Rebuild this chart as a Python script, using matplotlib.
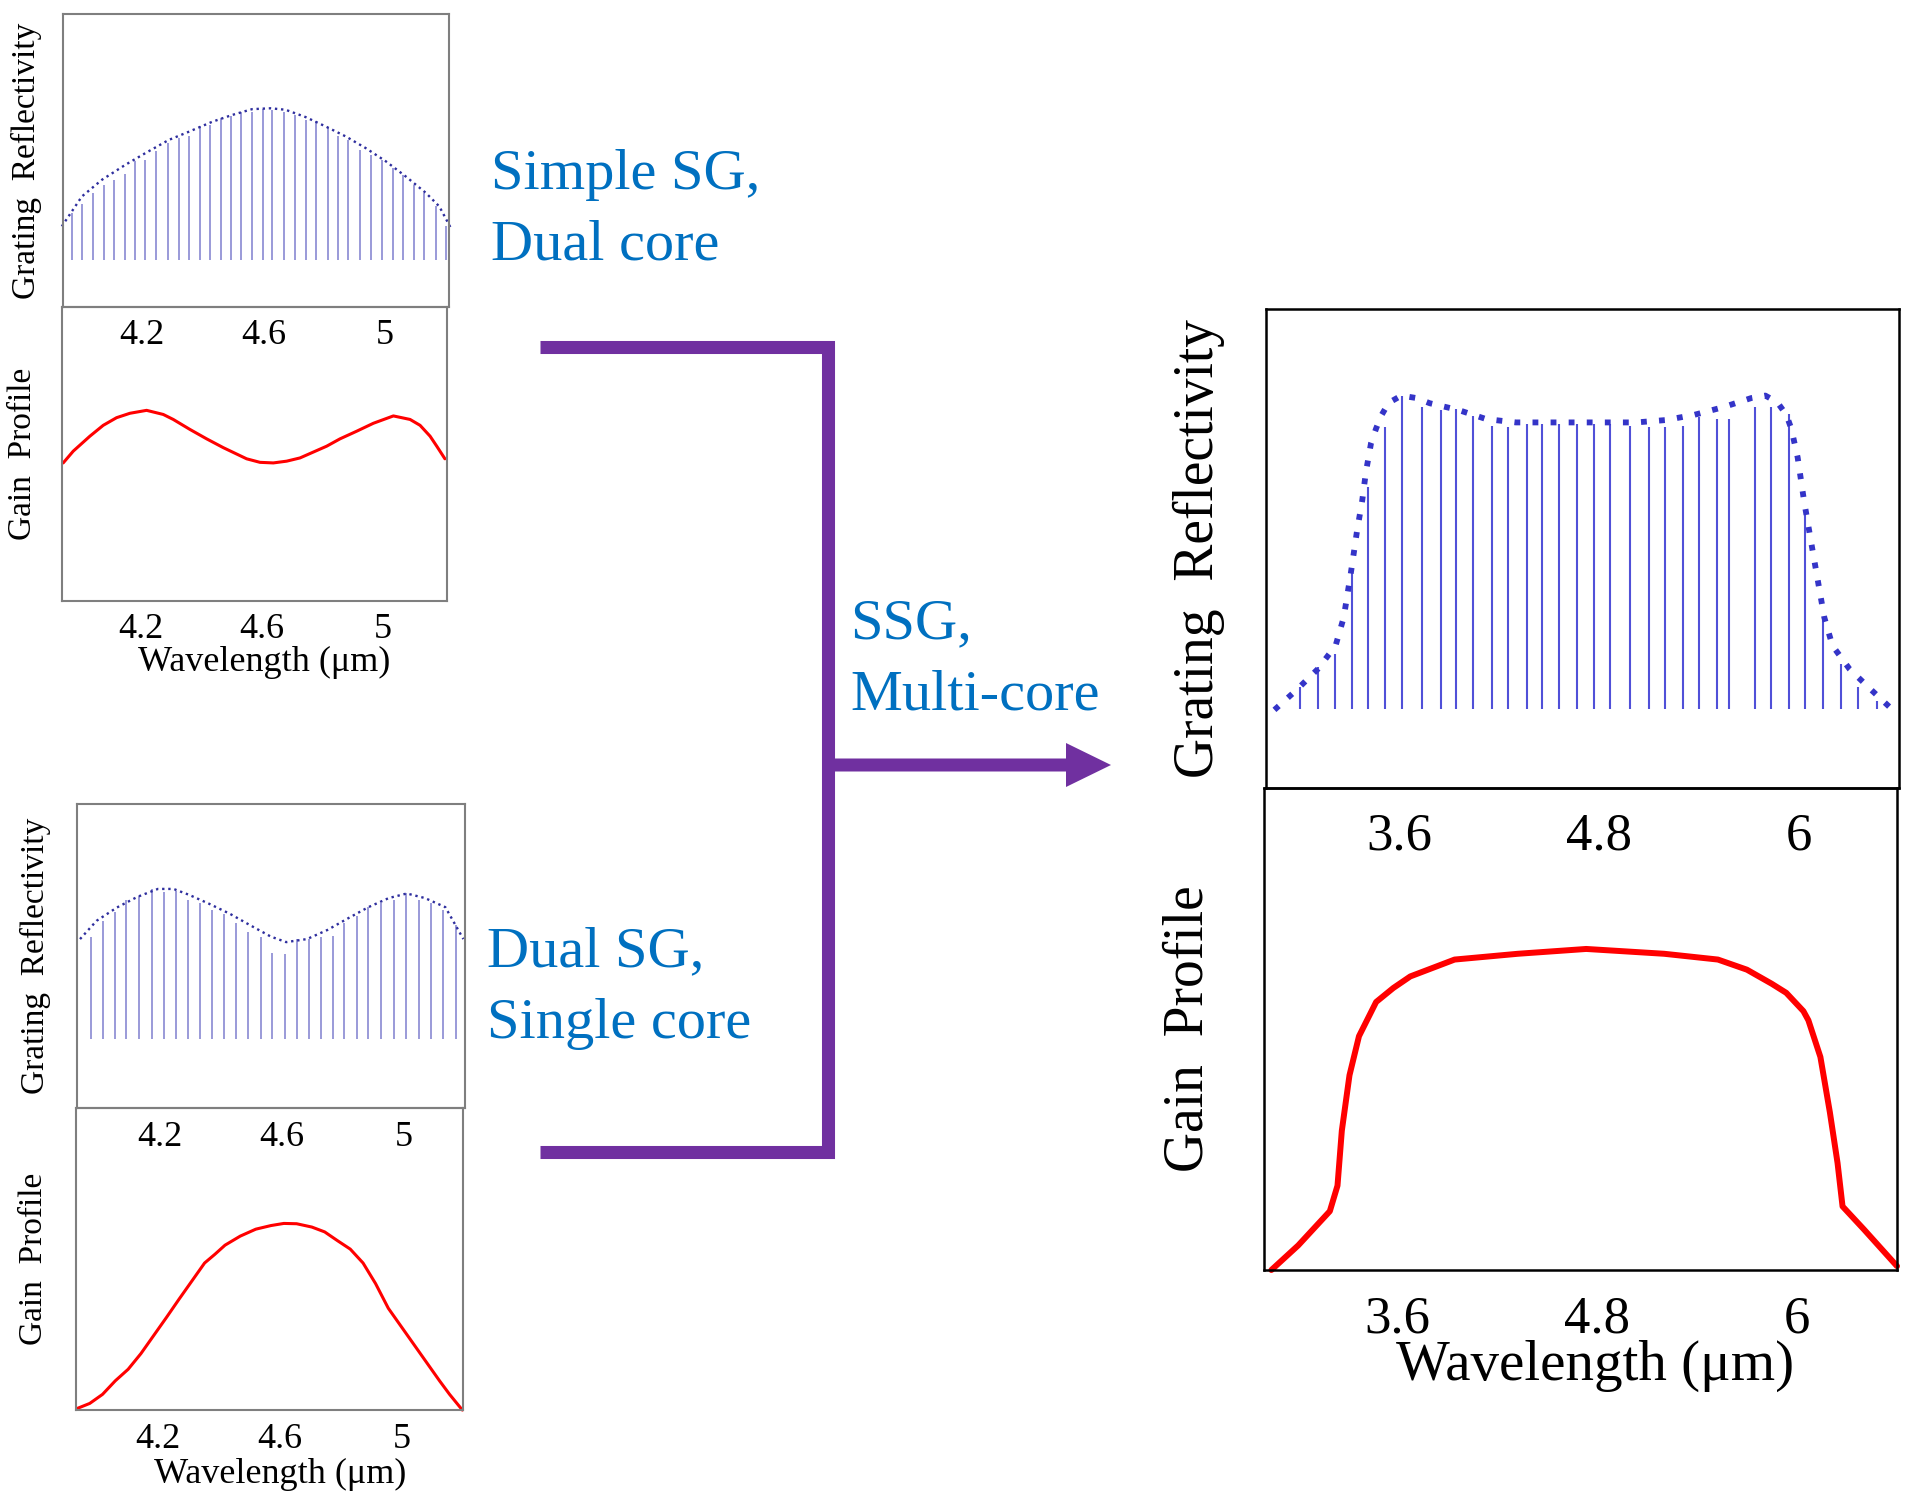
import matplotlib.pyplot as plt
from matplotlib.lines import Line2D
from matplotlib.patches import FancyArrow

plt.rcParams['font.family'] = ['Liberation Serif', 'DejaVu Serif']

# ---------- Simple SG, dual core (top left) ----------
simple_env_wl = [3.936, 4.002, 4.068, 4.145, 4.211, 4.288, 4.354, 4.431, 4.496, 4.562,
                 4.623, 4.672, 4.738, 4.804, 4.870, 4.936, 5.002, 5.068, 5.134, 5.178, 5.216]
simple_env_r = [0.275, 0.377, 0.434, 0.485, 0.525, 0.570, 0.598, 0.632, 0.655, 0.675,
                0.678, 0.673, 0.648, 0.616, 0.582, 0.542, 0.497, 0.445, 0.389, 0.343, 0.269]
simple_teeth_wl = [3.971, 4.004, 4.039, 4.074, 4.107, 4.143, 4.176, 4.211, 4.246, 4.285,
                   4.321, 4.354, 4.389, 4.422, 4.459, 4.494, 4.527, 4.562, 4.598, 4.628,
                   4.668, 4.703, 4.738, 4.773, 4.811, 4.846, 4.879, 4.916, 4.954, 4.989,
                   5.024, 5.059, 5.094, 5.129, 5.167, 5.200]
simple_teeth_r = [0.320, 0.352, 0.389, 0.417, 0.434, 0.455, 0.497, 0.500, 0.531, 0.559,
                  0.576, 0.582, 0.618, 0.622, 0.644, 0.650, 0.667, 0.667, 0.675, 0.673,
                  0.667, 0.656, 0.639, 0.633, 0.610, 0.582, 0.570, 0.536, 0.519, 0.502,
                  0.474, 0.451, 0.417, 0.389, 0.343, 0.275]
simple_teeth_base = 0.16
simple_gain_wl = [3.945, 3.978, 4.033, 4.077, 4.121, 4.165, 4.220, 4.275, 4.308, 4.363,
                  4.418, 4.473, 4.550, 4.594, 4.638, 4.682, 4.726, 4.814, 4.858, 4.913,
                  4.968, 5.034, 5.089, 5.122, 5.155, 5.177, 5.204]
simple_gain = [0.469, 0.509, 0.560, 0.597, 0.623, 0.638, 0.648, 0.634, 0.617, 0.583,
               0.551, 0.521, 0.483, 0.471, 0.469, 0.475, 0.486, 0.526, 0.551, 0.577,
               0.604, 0.629, 0.617, 0.597, 0.560, 0.526, 0.483]

# ---------- Dual SG, single core (bottom left) ----------
dual_env_wl = [3.940, 3.994, 4.061, 4.128, 4.195, 4.246, 4.296, 4.363, 4.431, 4.498,
               4.565, 4.615, 4.683, 4.750, 4.817, 4.884, 4.951, 5.010, 5.069, 5.136, 5.195]
dual_env_r = [0.556, 0.616, 0.660, 0.695, 0.721, 0.721, 0.702, 0.672, 0.639, 0.601,
              0.564, 0.546, 0.556, 0.586, 0.624, 0.661, 0.691, 0.706, 0.691, 0.661, 0.556]
dual_teeth_wl = [3.977, 4.014, 4.053, 4.091, 4.132, 4.175, 4.216, 4.254, 4.293, 4.333,
                 4.372, 4.410, 4.451, 4.489, 4.531, 4.568, 4.610, 4.649, 4.688, 4.728,
                 4.767, 4.805, 4.846, 4.884, 4.926, 4.968, 5.007, 5.049, 5.089, 5.129, 5.170]
dual_teeth_r = [0.564, 0.616, 0.646, 0.683, 0.698, 0.720, 0.710, 0.713, 0.683, 0.676,
                0.653, 0.638, 0.608, 0.578, 0.564, 0.511, 0.507, 0.556, 0.556, 0.564,
                0.567, 0.608, 0.631, 0.661, 0.676, 0.683, 0.706, 0.683, 0.676, 0.653, 0.601]
dual_teeth_base = 0.227
dual_gain_wl = [3.933, 3.975, 4.017, 4.059, 4.101, 4.143, 4.185, 4.227, 4.268, 4.310,
                4.352, 4.386, 4.419, 4.469, 4.520, 4.570, 4.612, 4.654, 4.704, 4.746,
                4.788, 4.830, 4.872, 4.913, 4.955, 4.997, 5.039, 5.081, 5.123, 5.156, 5.198]
dual_gain = [0.005, 0.022, 0.052, 0.097, 0.135, 0.187, 0.247, 0.307, 0.367, 0.427,
             0.487, 0.516, 0.546, 0.576, 0.599, 0.611, 0.618, 0.617, 0.606, 0.590,
             0.561, 0.533, 0.487, 0.419, 0.337, 0.277, 0.217, 0.157, 0.097, 0.052, 0.000]

# ---------- SSG, multi-core (right) ----------
ssg_env_wl = [2.851, 2.985, 3.111, 3.218, 3.267, 3.309, 3.347, 3.378, 3.400, 3.431,
              3.461, 3.492, 3.537, 3.613, 3.701, 3.784, 3.955, 4.122, 4.301, 4.658,
              5.023, 5.202, 5.373, 5.547, 5.715, 5.798, 5.870, 5.924, 5.954, 5.992,
              6.030, 6.076, 6.106, 6.152, 6.201, 6.304, 6.433, 6.562]
ssg_env_r = [0.163, 0.205, 0.248, 0.297, 0.356, 0.447, 0.537, 0.600, 0.659, 0.720,
             0.750, 0.777, 0.804, 0.819, 0.814, 0.803, 0.789, 0.770, 0.763, 0.763,
             0.763, 0.768, 0.779, 0.795, 0.814, 0.819, 0.805, 0.779, 0.750, 0.690,
             0.600, 0.507, 0.447, 0.356, 0.297, 0.248, 0.205, 0.163]
ssg_teeth_wl = [3.002, 3.111, 3.212, 3.318, 3.412, 3.513, 3.614, 3.735, 3.852, 3.943,
                4.044, 4.158, 4.254, 4.368, 4.456, 4.557, 4.666, 4.767, 4.868, 4.987,
                5.101, 5.197, 5.303, 5.399, 5.505, 5.581, 5.733, 5.834, 5.940, 6.036,
                6.145, 6.251, 6.355, 6.466]
ssg_teeth_r = [0.210, 0.252, 0.280, 0.454, 0.628, 0.754, 0.819, 0.795, 0.788, 0.791,
               0.777, 0.756, 0.754, 0.760, 0.760, 0.760, 0.760, 0.760, 0.760, 0.756,
               0.754, 0.754, 0.756, 0.774, 0.770, 0.770, 0.795, 0.795, 0.781, 0.572,
               0.356, 0.259, 0.210, 0.182]
ssg_teeth_base = 0.165
ssg_gain_wl = [2.844, 3.005, 3.195, 3.241, 3.267, 3.313, 3.370, 3.473, 3.576, 3.678,
               3.944, 4.324, 4.734, 5.202, 5.525, 5.699, 5.847, 5.935, 6.038, 6.068,
               6.140, 6.197, 6.243, 6.273, 6.402, 6.600]
ssg_gain = [0.000, 0.051, 0.122, 0.175, 0.289, 0.404, 0.485, 0.556, 0.585, 0.609,
            0.644, 0.656, 0.666, 0.656, 0.644, 0.623, 0.594, 0.575, 0.537, 0.518,
            0.442, 0.327, 0.222, 0.132, 0.084, 0.008]

small_ticks = [4.2, 4.6, 5.0]
small_ticklabels = ['4.2', '4.6', '5']
big_ticks = [3.6, 4.8, 6.0]
big_ticklabels = ['3.6', '4.8', '6']

TEXT_BLUE = '#0070C0'
PURPLE = '#7030A0'
RED = '#FF0000'


def style_axes(ax, xlim, ticks, labels, tick_size, pad, frame_color, frame_lw):
    ax.set_facecolor('none')
    ax.set_xlim(*xlim)
    ax.set_ylim(0, 1)
    ax.set_xticks(ticks)
    ax.set_xticklabels(labels)
    ax.set_yticks([])
    ax.tick_params(axis='x', length=0, labelsize=tick_size, pad=pad)
    for sp in ax.spines.values():
        sp.set_color(frame_color)
        sp.set_linewidth(frame_lw)


def grating_panel(rect, env_wl, env_r, teeth_wl, teeth_r, base, xlim, ticks, labels,
                  tick_size, pad, frame_color, frame_lw, tooth_color, tooth_lw,
                  env_color, env_lw, env_dash, ylabel_size, ylabel_x):
    ax = fig.add_axes(rect)
    ax.vlines(teeth_wl, base, teeth_r, color=tooth_color, lw=tooth_lw)
    ax.plot(env_wl, env_r, color=env_color, lw=env_lw, linestyle=(0, env_dash),
            dash_capstyle='butt', clip_on=False)
    style_axes(ax, xlim, ticks, labels, tick_size, pad, frame_color, frame_lw)
    ax.set_ylabel('Grating  Reflectivity', fontsize=ylabel_size)
    ax.yaxis.set_label_coords(ylabel_x, 0.5)
    return ax


def gain_panel(rect, wl, g, xlim, ticks, labels, tick_size, pad, frame_color, frame_lw,
               line_lw, ylabel_size, ylabel_x, xlabel_size, xlabel_xy):
    ax = fig.add_axes(rect)
    ax.plot(wl, g, color=RED, lw=line_lw, clip_on=False, solid_capstyle='round',
            solid_joinstyle='round')
    style_axes(ax, xlim, ticks, labels, tick_size, pad, frame_color, frame_lw)
    ax.set_ylabel('Gain  Profile', fontsize=ylabel_size)
    ax.yaxis.set_label_coords(ylabel_x, 0.5)
    ax.set_xlabel('Wavelength (\u03bcm)', fontsize=xlabel_size)
    ax.xaxis.set_label_coords(*xlabel_xy)
    return ax


fig = plt.figure(figsize=(19.10, 14.98), dpi=100)

small_xlim = (3.94, 5.21)
grey = '#7f7f7f'

# top left
grating_panel([0.0330, 0.7951, 0.2021, 0.1956], simple_env_wl, simple_env_r,
              simple_teeth_wl, simple_teeth_r, simple_teeth_base, small_xlim,
              small_ticks, small_ticklabels, 26, 9, grey, 1.5,
              '#9a9ad8', 1.4, '#2e2e9e', 1.7, (1, 1.6), 24, -0.055)
gain_panel([0.0323, 0.5990, 0.2016, 0.1961], simple_gain_wl, simple_gain, small_xlim,
           small_ticks, small_ticklabels, 26, 9, grey, 1.5, 2.2, 24, -0.062,
           26, (0.526, -0.155))

# bottom left
dual_xlim = (3.93, 5.20)
grating_panel([0.0403, 0.2603, 0.2031, 0.2029], dual_env_wl, dual_env_r,
              dual_teeth_wl, dual_teeth_r, dual_teeth_base, dual_xlim,
              small_ticks, small_ticklabels, 26, 9, grey, 1.5,
              '#9a9ad8', 1.4, '#2e2e9e', 1.7, (1, 1.6), 24, -0.066)
gain_panel([0.0398, 0.0587, 0.2026, 0.2016], dual_gain_wl, dual_gain, dual_xlim,
           small_ticks, small_ticklabels, 26, 9, grey, 1.5, 2.2, 24, -0.07,
           26, (0.527, -0.16))

# right
big_xlim = (2.80, 6.60)
grating_panel([0.6628, 0.4740, 0.3314, 0.3198], ssg_env_wl, ssg_env_r,
              ssg_teeth_wl, ssg_teeth_r, ssg_teeth_base, big_xlim,
              big_ticks, big_ticklabels, 38, 18, 'black', 1.8,
              '#5050d8', 1.5, '#3434c8', 4.2, (1, 2.1), 40, -0.065)
gain_panel([0.6618, 0.1522, 0.3314, 0.3218], ssg_gain_wl, ssg_gain, big_xlim,
           big_ticks, big_ticklabels, 38, 18, 'black', 1.8, 4.3, 40, -0.078,
           41, (0.523, -0.145))

# blue annotations
H = 1498.0
W = 1910.0
fig.text(491 / W, 1 - 189 / H, 'Simple SG,', color=TEXT_BLUE, fontsize=42, va='baseline')
fig.text(491 / W, 1 - 260 / H, 'Dual core', color=TEXT_BLUE, fontsize=42, va='baseline')
fig.text(487 / W, 1 - 966 / H, 'Dual SG,', color=TEXT_BLUE, fontsize=42, va='baseline')
fig.text(487 / W, 1 - 1038 / H, 'Single core', color=TEXT_BLUE, fontsize=42, va='baseline')
fig.text(850 / W, 1 - 638 / H, 'SSG,', color=TEXT_BLUE, fontsize=42, va='baseline')
fig.text(850 / W, 1 - 709 / H, 'Multi-core', color=TEXT_BLUE, fontsize=42, va='baseline')

# purple bracket and arrow (pixel positions -> figure fractions)
bx = [540 / W, 828 / W, 828 / W, 540 / W]
by = [1 - 347 / H, 1 - 347 / H, 1 - 1152 / H, 1 - 1152 / H]
fig.add_artist(Line2D(bx, by, transform=fig.transFigure, color=PURPLE, lw=9.4,
                      solid_joinstyle='miter', solid_capstyle='butt'))
fig.add_artist(FancyArrow(8.28, (H - 765) / 100, 2.83, 0, width=0.13, head_width=0.44,
                          head_length=0.45, length_includes_head=True,
                          transform=fig.dpi_scale_trans, color=PURPLE, lw=0))

fig.savefig('out.png', dpi=100)
